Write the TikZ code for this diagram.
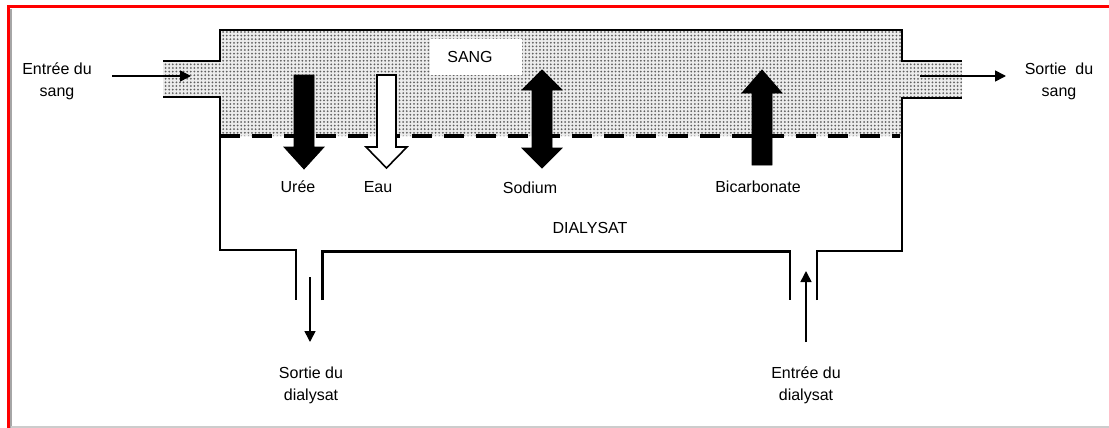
\documentclass[tikz,border=0pt]{standalone}
\usepackage{fontspec}
\setmainfont{Liberation Sans}
\usetikzlibrary{patterns.meta,arrows.meta}
\begin{document}
\begin{tikzpicture}[x=0.5pt,y=-0.5pt,
  wall/.style={line width=1pt,line join=miter},
  membrane/.style={line width=2pt,dash pattern=on 10pt off 6pt},
  lbl/.style={font=\fontsize{8}{11}\selectfont,inner sep=0pt,align=center},
  flow/.style={line width=0.8pt,-{Triangle[length=5.5pt,width=5.5pt]}},
  blockarrow/.style={fill=black,draw=black,line width=0.4pt,line join=miter},
  hollowarrow/.style={fill=white,draw=black,line width=0.8pt,line join=miter},
  blood/.style={preaction={fill=gray!15},pattern={Dots[radius=0.5pt,distance=1.8pt]},pattern color=gray!75!black}
]
\useasboundingbox (0,0) rectangle (1109,428);
% screenshot frame
\draw[red,line width=1.2pt] (8.5,428) -- (8.5,6.5) -- (1109,6.5);
\draw[gray!70,line width=0.8pt] (11,428) -- (11,9);
\draw[gray!40,line width=0.8pt] (11,427) -- (1109,427);

% blood compartment
\path[blood] (163,61) -- (220,61) -- (220,30) -- (902,30) -- (902,61) -- (962,61)
  -- (962,98) -- (902,98) -- (902,136) -- (220,136) -- (220,97) -- (163,97) -- cycle;
\node[fill=white,minimum width=46pt,minimum height=18pt,inner sep=0pt] (sangbox) at (476,57) {};
\node[lbl] (sang) at (470,57) {SANG};

% walls
\draw[wall] (163,61) -- (220,61) -- (220,30) -- (902,30) -- (902,61) -- (962,61);
\draw[wall] (163,97) -- (220,97) -- (220,250) -- (296,250) -- (296,300);
\draw[line width=1.5pt] (322,300) -- (322,251) -- (790,251);
\draw[wall] (322,251) -- (790,251) -- (790,300);
\draw[wall] (817,300) -- (817,251) -- (902,251) -- (902,98) -- (962,98);

% membrane
\draw[membrane] (220,136) -- (900,136);

% block arrows
\fill[blockarrow] (294,75) -- (314,75) -- (314,147) -- (324,147) -- (304,169) -- (284,147) -- (294,147) -- cycle;
\draw[hollowarrow] (377,75) -- (396,75) -- (396,147) -- (407,147) -- (386.5,168) -- (366,147) -- (377,147) -- cycle;
\fill[blockarrow] (542,70) -- (562,90) -- (552,90) -- (552,148) -- (562,148) -- (542,168) -- (522,148) -- (532,148) -- (532,90) -- (522,90) -- cycle;
\fill[blockarrow] (762,70) -- (782,93) -- (772,93) -- (772,165) -- (752,165) -- (752,93) -- (742,93) -- cycle;

% labels
\node[lbl] (lur) at (298,187) {Urée};
\node[lbl] (leau) at (378,187) {Eau};
\node[lbl] (lna) at (530,188) {Sodium};
\node[lbl] (lbic) at (758,187) {Bicarbonate};
\node[lbl] (ldia) at (590,228) {DIALYSAT};

\node[lbl] (insang) at (57,81) {Entrée du\\sang};
\node[lbl] (outsang) at (1059,81) {Sortie\ \ du\\sang};
\node[lbl] (outdia) at (311,385) {Sortie du\\dialysat};
\node[lbl] (india) at (806,385) {Entrée du\\dialysat};

% flow arrows
\coordinate (a1) at (112,76);
\coordinate (a2) at (191,76);
\coordinate (b1) at (920,76);
\coordinate (b2) at (1006,76);
\coordinate (c1) at (310,277);
\coordinate (c2) at (310,342);
\coordinate (d1) at (806,342);
\coordinate (d2) at (806,271);
\draw[flow] (a1) -- (a2);
\draw[flow] (b1) -- (b2);
\draw[flow] (c1) -- (c2);
\draw[flow] (d1) -- (d2);
\end{tikzpicture}
\end{document}
